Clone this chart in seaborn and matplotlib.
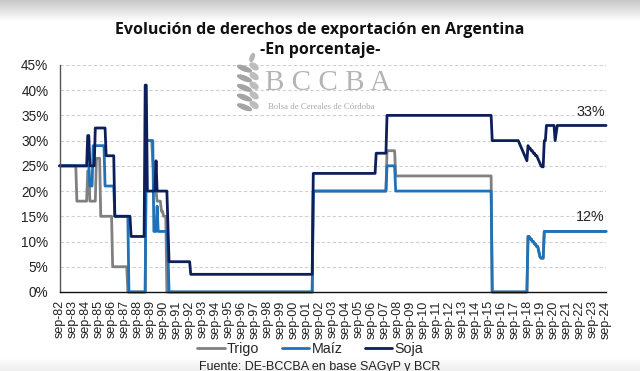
import numpy as np
import pandas as pd
import matplotlib
matplotlib.use("Agg")
import matplotlib.pyplot as plt
import seaborn as sns
from matplotlib.patches import Ellipse

# ---------------- data (change points, monthly rates in %) ----------------
start_month = "1982-09"
end_month = "2024-09"

trigo_dates = ["1982-09", "1984-01", "1984-11", "1985-01", "1985-07", "1985-11",
               "1986-10", "1987-12", "1989-05", "1989-11", "1989-12", "1990-01",
               "1990-02", "1990-03", "1990-07", "1990-09", "1990-12", "2002-03",
               "2007-11", "2008-07", "2015-12", "2018-09", "2018-11", "2019-01",
               "2019-03", "2019-05", "2019-07", "2019-08", "2019-09", "2019-12"]
trigo_vals = [25, 18, 24, 18, 26.5, 15,
              5, 0, 30, 26, 23, 21,
              20, 18, 16, 15, 0, 20,
              28, 23, 0, 11, 10.5, 10,
              9.5, 9, 8, 7, 6.7, 12]

maiz_dates = ["1982-09", "1985-01", "1985-04", "1986-03", "1986-12", "1988-01",
              "1989-05", "1989-12", "1990-03", "1990-04", "1991-01", "1991-02",
              "2002-03", "2007-11", "2008-07", "2015-12", "2018-09", "2018-11",
              "2019-01", "2019-03", "2019-05", "2019-07", "2019-08", "2019-09",
              "2019-12"]
maiz_vals = [25, 21, 29, 21, 15, 0,
             30, 12, 17, 12, 8, 0,
             20, 25, 20, 0, 11, 10.5,
             10, 9.5, 9, 8, 7, 6.7,
             12]

soja_dates = ["1982-09", "1984-11", "1985-01", "1985-06", "1986-04", "1986-12",
              "1988-03", "1989-04", "1989-06", "1990-02", "1990-03", "1991-01",
              "1991-02", "1992-10", "2002-03", "2007-01", "2007-11", "2015-12",
              "2018-01", "2018-02", "2018-03", "2018-04", "2018-05", "2018-06",
              "2018-07", "2018-08", "2018-09", "2018-10", "2018-12", "2019-02",
              "2019-04", "2019-06", "2019-07", "2019-08", "2019-09", "2019-10",
              "2019-12", "2020-02", "2020-10", "2020-11", "2020-12"]
soja_vals = [25, 31, 25, 32.5, 27, 15,
             11, 41, 20, 26, 20, 13,
             6, 3.5, 23.5, 27.5, 35, 30,
             29.5, 29, 28.5, 28, 27.5, 27,
             26.5, 26, 29, 28.5, 28, 27.5,
             27, 26.5, 26, 25.5, 25, 24.8,
             30, 33, 30, 31.5, 33]

series_names = ["Trigo", "Maíz", "Soja"]
series_colors = ["#808080", "#1f72b8", "#0c1f5b"]

months = pd.period_range(start_month, end_month, freq="M")


def expand(dates, vals):
    s = pd.Series(vals, index=pd.PeriodIndex(dates, freq="M"), dtype=float)
    return s.reindex(months).ffill().to_numpy()


frames = []
for name, d, v in zip(series_names,
                      [trigo_dates, maiz_dates, soja_dates],
                      [trigo_vals, maiz_vals, soja_vals]):
    frames.append(pd.DataFrame({"mes": np.arange(len(months)),
                                "valor": expand(d, v),
                                "cultivo": name}))
df = pd.concat(frames, ignore_index=True)

tick_pos = np.arange(0, len(months), 12)
tick_labels = [f"sep-{str(p.year)[2:]}" for p in months[::12]]

# ---------------- figure ----------------
sns.set_theme(style="white")
plt.rcParams["font.family"] = ["Liberation Sans", "DejaVu Sans"]

fig = plt.figure(figsize=(6.4, 3.71), dpi=100)

# subtle screenshot shading at top / bottom
bg = fig.add_axes([0, 0, 1, 1], zorder=-10)
grad = np.ones((371, 1))
grad[:22, 0] = np.linspace(0.78, 1.0, 22)
grad[-14:, 0] = np.linspace(1.0, 0.93, 14)
bg.imshow(np.repeat(grad, 2, axis=1), cmap="gray", vmin=0, vmax=1,
          aspect="auto", extent=[0, 1, 0, 1])
bg.axis("off")

ax = fig.add_axes([0.093, 0.213, 0.854, 0.612])
ax.set_facecolor("none")

for name, col in zip(series_names, series_colors):
    sub = df[df["cultivo"] == name]
    sns.lineplot(data=sub, x="mes", y="valor", color=col, linewidth=2.0,
                 ax=ax, label=name, clip_on=False, legend=False)

ax.set_xlim(0, len(months) - 1)
ax.set_ylim(0, 45)
ax.set_yticks(np.arange(0, 46, 5))
ax.set_yticklabels([f"{v}%" for v in range(0, 46, 5)], fontsize=9.8, color="#222222")
ax.set_xticks(tick_pos)
ax.set_xticklabels(tick_labels, rotation=90, fontsize=9, color="#222222")
ax.tick_params(axis="x", length=0, pad=6)
ax.tick_params(axis="y", length=0, pad=8)
ax.set_xlabel("")
ax.set_ylabel("")

for v in range(5, 46, 5):
    ax.axhline(v, color="#d0d0d0", linewidth=0.8, linestyle=(0, (3, 2)), zorder=0)

for s in ["top", "right"]:
    ax.spines[s].set_visible(False)
ax.spines["left"].set_color("#555555")
ax.spines["left"].set_linewidth(1.0)
ax.spines["bottom"].set_color("#111111")
ax.spines["bottom"].set_linewidth(1.0)

# end labels
last = len(months) - 1
ax.annotate("33%", xy=(last, soja_vals[-1]), xytext=(-1, 5),
            textcoords="offset points", ha="right", va="bottom",
            fontsize=10.3, color="#222222")
ax.annotate("12%", xy=(last, maiz_vals[-1]), xytext=(-1, 5),
            textcoords="offset points", ha="right", va="bottom",
            fontsize=10.3, color="#222222")

# titles
fig.text(0.5, 0.918, "Evolución de derechos de exportación en Argentina",
         ha="center", va="center", fontsize=11.5, fontweight="bold",
         family=["Open Sans", "DejaVu Sans"], color="#111111")
fig.text(0.5, 0.866, "-En porcentaje-", ha="center", va="center",
         fontsize=11.5, fontweight="bold", family=["Open Sans", "DejaVu Sans"],
         color="#111111")

# watermark logo
fig.text(0.414, 0.775, "B C C B A", ha="left", va="center", fontsize=21,
         family=["Liberation Serif"], color="#b4b4b4")
fig.text(0.418, 0.711, "Bolsa de Cereales de Córdoba", ha="left", va="center",
         fontsize=6.3, family=["Liberation Serif"], color="#a8a8a8")
for i in range(5):
    yy = 0.815 - i * 0.026
    fig.patches.append(Ellipse((0.382, yy), 0.026, 0.010, angle=-38,
                               transform=fig.transFigure, color="#a4a4a4"))
    fig.patches.append(Ellipse((0.397, yy + 0.006), 0.010, 0.020, angle=25,
                               transform=fig.transFigure, color="#bdbdbd"))
fig.patches.append(Ellipse((0.394, 0.845), 0.006, 0.022, angle=-10,
                           transform=fig.transFigure, color="#b5b5b5"))

# legend
handles, labels = ax.get_legend_handles_labels()
fig.legend(handles, labels, loc="center", bbox_to_anchor=(0.485, 0.058), ncol=3,
           frameon=False, fontsize=10.3, handlelength=1.9, handletextpad=0.15,
           columnspacing=1.6)

fig.text(0.5, 0.012, "Fuente: DE-BCCBA en base SAGyP y BCR", ha="center",
         va="center", fontsize=9, color="#222222")

fig.savefig("out.png", dpi=100)
